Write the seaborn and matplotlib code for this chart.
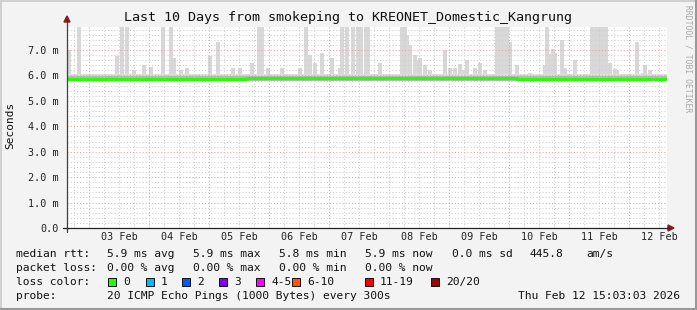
import matplotlib
matplotlib.use("Agg")
import matplotlib.pyplot as plt
import numpy as np
import pandas as pd
import seaborn as sns
from matplotlib.patches import Rectangle, Polygon
from matplotlib.lines import Line2D

# ---------------- data (hours since Feb 02 15:03) ----------------
title = "Last 10 Days from smokeping to KREONET_Domestic_Kangrung"
day_labels = ["03 Feb", "04 Feb", "05 Feb", "06 Feb", "07 Feb",
              "08 Feb", "09 Feb", "10 Feb", "11 Feb", "12 Feb"]
ytick_labels = ["0.0", "1.0 m", "2.0 m", "3.0 m", "4.0 m", "5.0 m", "6.0 m", "7.0 m"]

# smoke spikes (max rtt in ms)
spike_hours = [0.8, 4.8, 20.0, 22.0, 24.0, 26.8, 30.8, 33.6, 38.4, 41.6, 42.8, 45.6,
               48.0, 57.2, 60.4, 66.4, 69.2, 74.0, 76.8, 78.0, 80.4, 86.0, 93.2, 95.6,
               97.2, 99.2, 102.0, 106.0, 109.2, 110.0, 112.0, 114.4, 116.4, 117.6,
               119.6, 120.4, 125.2, 134.0, 135.2, 136.0, 137.2, 139.2, 140.4, 141.2,
               143.2, 145.2, 151.2, 153.2, 155.2, 157.2, 158.4, 160.0, 163.2, 165.2,
               167.2, 172.0, 173.2, 174.4, 176.0, 177.2, 180.0, 185.2, 191.2, 192.0,
               193.6, 194.4, 195.2, 198.0, 199.2, 203.2, 210.0, 211.2, 212.4, 213.6,
               214.8, 215.6, 217.2, 219.2, 220.0, 228.0, 230.4, 231.2, 233.2]
spike_tops = [7.0, 8.5, 6.75, 8.5, 8.5, 6.2, 6.4, 6.35, 8.5, 8.5, 6.7, 6.2,
              6.3, 6.75, 7.3, 6.3, 6.3, 6.5, 8.5, 8.5, 6.3, 6.3, 6.3, 8.5,
              6.8, 6.5, 6.9, 6.7, 6.3, 8.5, 8.5, 8.5, 8.5, 8.5,
              8.5, 8.5, 6.5, 8.5, 8.5, 7.6, 7.2, 6.8, 6.6, 6.7,
              6.4, 6.2, 7.0, 6.3, 6.3, 6.45, 6.2, 6.6, 6.3, 6.5,
              6.2, 8.5, 8.5, 8.5, 8.5, 7.3, 6.4, 6.1, 6.4, 8.5,
              6.85, 7.05, 6.9, 7.4, 6.3, 6.6, 8.5, 8.5, 8.5, 8.5,
              8.5, 8.5, 6.5, 6.25, 6.2, 7.3, 6.1, 6.4, 6.2]

# median rtt (ms)
med_hours = [0, 12, 24, 36, 48, 60, 72, 84, 96, 108, 120, 132, 144, 156, 168,
             180, 192, 204, 210, 216, 222, 228, 233.6, 234.0, 235.2, 240]
med_vals = [5.87, 5.87, 5.86, 5.87, 5.87, 5.87, 5.88, 5.88, 5.88, 5.88, 5.88, 5.88,
            5.88, 5.88, 5.88, 5.87, 5.85, 5.87, 5.85, 5.86, 5.86, 5.86, 5.85,
            np.nan, 5.87, 5.87]

# smoke band around the median
band_lo = 5.80
band_hi = 5.96
band_top = 6.07

loss_labels = ["0", "1", "2", "3", "4-5", "6-10", "11-19", "20/20"]
loss_colors = ["#26ff00", "#00b8ff", "#0059ff", "#7e00ff", "#ff00ff", "#ff5500", "#ff0000", "#a10000"]

# ---------------- figure ----------------
sns.set_theme(style="white")
plt.rcParams['font.family'] = ['DejaVu Sans Mono', 'DejaVu Sans']

W, H = 697, 310
fig = plt.figure(figsize=(W / 100, H / 100), dpi=100)
fig.patch.set_facecolor("#F3F3F3")

def fx(x):
    return x / W

def fy(y):
    return 1 - y / H

L, R, T, B = 67, 667, 27, 228
ax = fig.add_axes([fx(L), fy(B), (R - L) / W, (B - T) / H])
ax.set_facecolor("white")
ymax = (B - T) / ((B - 50) / 7.0)
ax.set_xlim(0, 240)
ax.set_ylim(0, ymax)
for s in ax.spines.values():
    s.set_visible(False)

# grid
start_min = 15 * 60 + 3
first_mid = (24 * 60 - start_min) / 60.0
grid_hours = [first_mid - 6] + [first_mid + 6 * k for k in range(0, 40)]
for k, h in enumerate(grid_hours):
    if 0 < h < 240:
        is_mid = abs((h - first_mid) % 24) < 1e-6
        ax.axvline(h, color="#F2A0A0" if is_mid else "#CFCFCF", lw=0.75,
                   ls=(0, (1, 2)), zorder=3)
for v in np.arange(0.2, ymax, 0.2):
    is_major = abs(v - round(v)) < 1e-6
    ax.axhline(v, color="#F2A0A0" if is_major else "#CFCFCF", lw=0.75,
               ls=(0, (1, 2)), zorder=3)

# smoke
ax.bar(spike_hours, np.array(spike_tops) - band_lo, bottom=band_lo, width=1.3,
       color="#D8D8D8", edgecolor="none", zorder=2)
ax.fill_between([0, 240], band_lo, band_top, color="#DEDEDE", lw=0, zorder=2)
ax.fill_between([0, 240], band_lo, band_hi, color="#B8B8B8", lw=0, zorder=2)

# median
med = pd.DataFrame({"h": med_hours, "v": med_vals})
ax.step(med["h"], med["v"], where="post", color="#26ff00", lw=2.2, zorder=4)

# ticks
ax.set_yticks(range(8))
ax.set_yticklabels(ytick_labels, fontsize=7.3, color="#222222")
ax.tick_params(axis="y", length=3, width=0.8, color="#444444", pad=3)
noons = [first_mid + 12 + 24 * k for k in range(10)]
ax.set_xticks(noons)
ax.set_xticklabels(day_labels, fontsize=7.3, color="#222222")
ax.tick_params(axis="x", length=0, pad=3)

# axis lines + arrows
fig.add_artist(Line2D([fx(L), fx(L)], [fy(B + 4), fy(T - 6)], color="#404040", lw=0.9))
fig.add_artist(Line2D([fx(L - 4), fx(R + 2)], [fy(B), fy(B)], color="#222222", lw=0.9))
fig.add_artist(Polygon([(fx(L - 3), fy(T - 5)), (fx(L + 3), fy(T - 5)), (fx(L), fy(T - 11))],
                       closed=True, color="#8B1A1A", transform=fig.transFigure))
fig.add_artist(Polygon([(fx(R + 1), fy(B - 3)), (fx(R + 1), fy(B + 3)), (fx(R + 7), fy(B))],
                       closed=True, color="#8B1A1A", transform=fig.transFigure))

# texts
fig.text(fx(348), fy(18), title, ha="center", va="center", fontsize=9.6, color="#111111")
fig.text(fx(10), fy(125), "Seconds", rotation=90, ha="center", va="center", fontsize=8, color="#111111")
fig.text(fx(688), fy(5), "RRDTOOL / TOBI OETIKER", rotation=270, ha="center", va="top",
         fontsize=5.8, color="#A8A8A8")

fs = 8.1
c = "#111111"
line1 = [(16, "median rtt:"), (107, "5.9 ms avg"), (193, "5.9 ms max"), (279, "5.8 ms min"),
         (365, "5.9 ms now"), (452, "0.0 ms sd"), (530, "445.8"), (586, "am/s")]
line2 = [(16, "packet loss:"), (107, "0.00 % avg"), (193, "0.00 % max"), (279, "0.00 % min"),
         (365, "0.00 % now")]
for x, t in line1:
    fig.text(fx(x), fy(254), t, ha="left", va="center", fontsize=fs, color=c)
for x, t in line2:
    fig.text(fx(x), fy(268), t, ha="left", va="center", fontsize=fs, color=c)
fig.text(fx(16), fy(282), "loss color:", ha="left", va="center", fontsize=fs, color=c)
box_x = [108, 146, 182, 219, 256, 292, 365, 431]
for bx, lab, col in zip(box_x, loss_labels, loss_colors):
    fig.add_artist(Rectangle((fx(bx), fy(286)), 8 / W, 8 / H, facecolor=col,
                             edgecolor="#111111", lw=0.7, transform=fig.transFigure))
    fig.text(fx(bx + 15), fy(282), lab, ha="left", va="center", fontsize=fs, color=c)
fig.text(fx(16), fy(296), "probe:", ha="left", va="center", fontsize=fs, color=c)
fig.text(fx(107), fy(296), "20 ICMP Echo Pings (1000 Bytes) every 300s", ha="left", va="center",
         fontsize=fs, color=c)
fig.text(fx(680), fy(296), "Thu Feb 12 15:03:03 2026", ha="right", va="center", fontsize=fs, color=c)

# frame shading
fig.add_artist(Line2D([0, 1], [fy(0.5), fy(0.5)], color="#D0D0D0", lw=1.5))
fig.add_artist(Line2D([fx(0.5), fx(0.5)], [0, 1], color="#D0D0D0", lw=1.5))
fig.add_artist(Line2D([0, 1], [fy(H - 1), fy(H - 1)], color="#999999", lw=1.5))
fig.add_artist(Line2D([fx(W - 1), fx(W - 1)], [0, 1], color="#999999", lw=1.5))

fig.savefig("out.png", dpi=100, facecolor=fig.get_facecolor())
